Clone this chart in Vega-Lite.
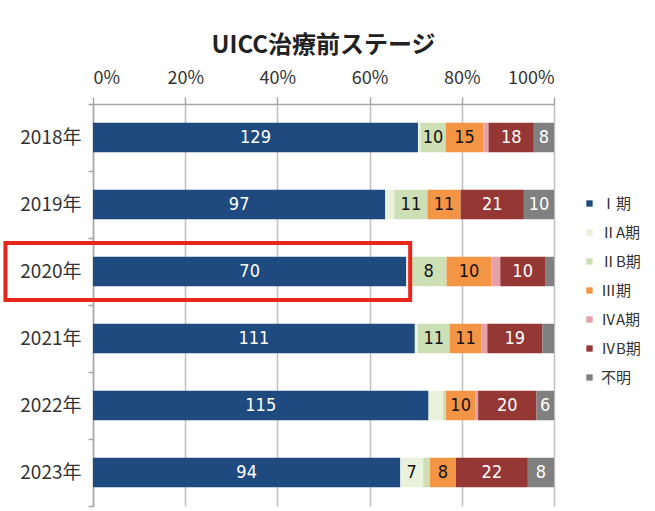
{
  "$schema": "https://vega.github.io/schema/vega-lite/v6.json",
  "width": 461,
  "height": 402,
  "autosize": {"type": "none"},
  "padding": {"left": 93, "top": 104, "right": 101, "bottom": 5},
  "background": "white",
  "title": {"text": "UICC治療前ステージ", "fontSize": 24, "fontWeight": "bold", "font": "Noto Sans CJK JP", "color": "#222222", "offset": 11, "anchor": "middle"},
  "config": {"view": {"stroke": null}},
  "layer": [
    {
      "data": {"values": [
        {"year": "2018年", "stage": "Ⅰ期", "ord": 1, "n": 129},
        {"year": "2018年", "stage": "ⅡA期", "ord": 2, "n": 1},
        {"year": "2018年", "stage": "ⅡB期", "ord": 3, "n": 10},
        {"year": "2018年", "stage": "Ⅲ期", "ord": 4, "n": 15},
        {"year": "2018年", "stage": "ⅣA期", "ord": 5, "n": 2},
        {"year": "2018年", "stage": "ⅣB期", "ord": 6, "n": 18},
        {"year": "2018年", "stage": "不明", "ord": 7, "n": 8},
        {"year": "2019年", "stage": "Ⅰ期", "ord": 1, "n": 97},
        {"year": "2019年", "stage": "ⅡA期", "ord": 2, "n": 3},
        {"year": "2019年", "stage": "ⅡB期", "ord": 3, "n": 11},
        {"year": "2019年", "stage": "Ⅲ期", "ord": 4, "n": 11},
        {"year": "2019年", "stage": "ⅣB期", "ord": 6, "n": 21},
        {"year": "2019年", "stage": "不明", "ord": 7, "n": 10},
        {"year": "2020年", "stage": "Ⅰ期", "ord": 1, "n": 70},
        {"year": "2020年", "stage": "ⅡA期", "ord": 2, "n": 1},
        {"year": "2020年", "stage": "ⅡB期", "ord": 3, "n": 8},
        {"year": "2020年", "stage": "Ⅲ期", "ord": 4, "n": 10},
        {"year": "2020年", "stage": "ⅣA期", "ord": 5, "n": 2},
        {"year": "2020年", "stage": "ⅣB期", "ord": 6, "n": 10},
        {"year": "2020年", "stage": "不明", "ord": 7, "n": 2},
        {"year": "2021年", "stage": "Ⅰ期", "ord": 1, "n": 111},
        {"year": "2021年", "stage": "ⅡA期", "ord": 2, "n": 1},
        {"year": "2021年", "stage": "ⅡB期", "ord": 3, "n": 11},
        {"year": "2021年", "stage": "Ⅲ期", "ord": 4, "n": 11},
        {"year": "2021年", "stage": "ⅣA期", "ord": 5, "n": 2},
        {"year": "2021年", "stage": "ⅣB期", "ord": 6, "n": 19},
        {"year": "2021年", "stage": "不明", "ord": 7, "n": 4},
        {"year": "2022年", "stage": "Ⅰ期", "ord": 1, "n": 115},
        {"year": "2022年", "stage": "ⅡA期", "ord": 2, "n": 5},
        {"year": "2022年", "stage": "ⅡB期", "ord": 3, "n": 1},
        {"year": "2022年", "stage": "Ⅲ期", "ord": 4, "n": 10},
        {"year": "2022年", "stage": "ⅣA期", "ord": 5, "n": 1},
        {"year": "2022年", "stage": "ⅣB期", "ord": 6, "n": 20},
        {"year": "2022年", "stage": "不明", "ord": 7, "n": 6},
        {"year": "2023年", "stage": "Ⅰ期", "ord": 1, "n": 94},
        {"year": "2023年", "stage": "ⅡA期", "ord": 2, "n": 7},
        {"year": "2023年", "stage": "ⅡB期", "ord": 3, "n": 2},
        {"year": "2023年", "stage": "Ⅲ期", "ord": 4, "n": 8},
        {"year": "2023年", "stage": "ⅣB期", "ord": 6, "n": 22},
        {"year": "2023年", "stage": "不明", "ord": 7, "n": 8}
      ]},
      "transform": [
        {"stack": "n", "groupby": ["year"], "sort": [{"field": "ord", "order": "ascending"}], "offset": "normalize", "as": ["x0", "x1"]}
      ],
      "layer": [
        {
          "mark": {"type": "bar", "height": {"band": 0.44}},
          "encoding": {
            "y": {"field": "year", "type": "nominal", "title": null,
                  "scale": {"paddingInner": 0, "paddingOuter": 0},
                  "axis": {"labelFontSize": 19, "labelColor": "#333333", "labelFont": "Noto Sans CJK JP", "domainColor": "#a6a6a6", "domainWidth": 1.5, "tickColor": "#a6a6a6", "tickWidth": 1.5, "tickSize": 5, "tickBand": "extent", "labelPadding": 7}},
            "x": {"field": "x0", "type": "quantitative", "title": null,
                  "scale": {"domain": [0, 1]},
                  "axis": {"orient": "top", "format": "%", "values": [0, 0.2, 0.4, 0.6, 0.8, 1], "grid": true, "gridColor": "#bfbfbf", "gridWidth": 1.5, "tickColor": "#a6a6a6", "tickWidth": 1.5, "tickSize": 7, "domainColor": "#a6a6a6", "domainWidth": 1.5, "labelFontSize": 18, "labelColor": "#333333", "labelFont": "Noto Sans CJK JP", "labelPadding": 10}},
            "x2": {"field": "x1"},
            "color": {"field": "stage", "type": "nominal",
                      "scale": {"domain": ["Ⅰ期", "ⅡA期", "ⅡB期", "Ⅲ期", "ⅣA期", "ⅣB期", "不明"],
                                "range": ["#1f4a7f", "#eaf1dd", "#cddfb5", "#f39545", "#e6a1a8", "#953735", "#808080"]},
                      "legend": {"orient": "none", "legendX": 489, "legendY": 92, "title": null, "symbolType": "square", "symbolSize": 40, "labelFontSize": 15, "rowPadding": 13, "labelFont": "Noto Sans CJK JP", "labelColor": "#333333"}}
          }
        },
        {
          "transform": [
            {"filter": "datum.n >= 6"},
            {"calculate": "(datum.x0 + datum.x1) / 2", "as": "mid"}
          ],
          "mark": {"type": "text", "fontSize": 18, "font": "Liberation Sans Narrow, DejaVu Sans Condensed, Noto Sans CJK JP", "baseline": "middle", "align": "center"},
          "encoding": {
            "y": {"field": "year", "type": "nominal"},
            "x": {"field": "mid", "type": "quantitative"},
            "text": {"field": "n", "type": "quantitative"},
            "color": {"condition": {"test": "indexof(['Ⅰ期', 'ⅣB期', '不明'], datum.stage) >= 0", "value": "white"}, "value": "#111111"}
          }
        }
      ]
    },
    {
      "data": {"values": [{}]},
      "mark": {"type": "bar", "fill": "transparent", "stroke": "#e8261c", "strokeWidth": 4, "height": {"band": 0.85}},
      "encoding": {
        "y": {"datum": "2020年"},
        "x": {"datum": -0.19},
        "x2": {"datum": 0.688}
      }
    }
  ]
}
